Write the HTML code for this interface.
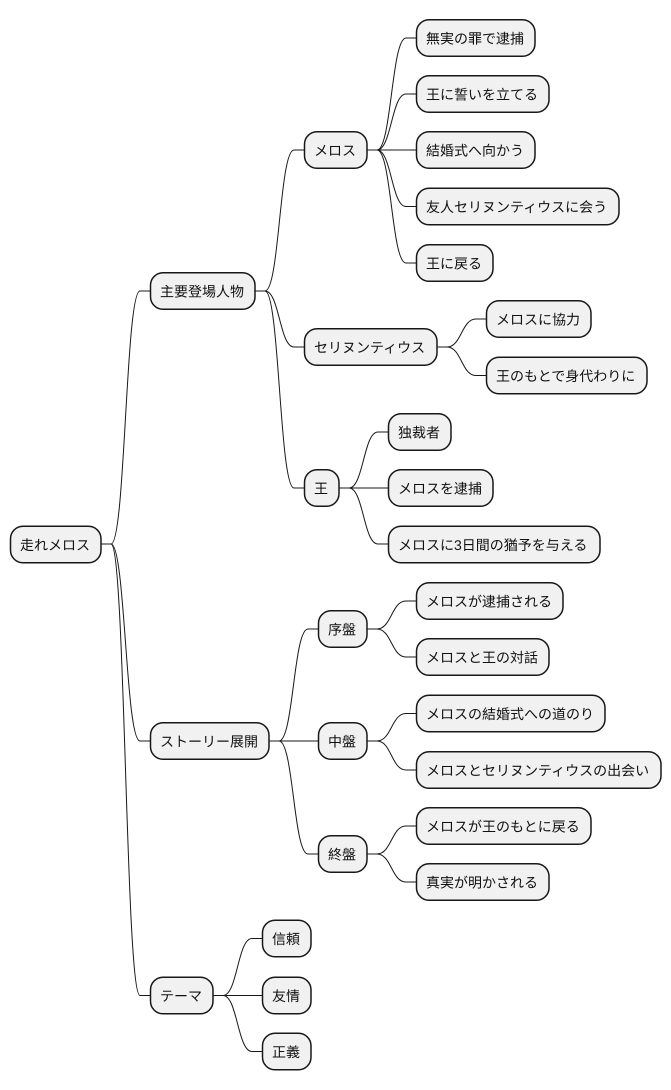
<!DOCTYPE html>
<html><head><meta charset="utf-8"><style>
html,body{margin:0;padding:0;background:#fff}
svg{display:block}
rect{fill:#F1F1F1;stroke:#181818;stroke-width:1.5}
path{fill:none;stroke:#181818;stroke-width:1}
text{font-family:"Liberation Sans","WenQuanYi Zen Hei",sans-serif;font-size:14px;fill:#111;text-rendering:geometricPrecision;transform:translateY(.5px)}
tspan{font-family:"Noto Sans CJK JP",sans-serif}
</style></head><body>
<svg xmlns="http://www.w3.org/2000/svg" width="671" height="1090" viewBox="0 0 671 1090">
<path d="M101,544L111,544C125.5,544 125.5,291 140,291L150,291"/>
<path d="M101,544L111,544C125.5,544 125.5,741 140,741L150,741"/>
<path d="M101,544L111,544C125.5,544 125.5,995.5 140,995.5L150,995.5"/>
<path d="M255,291L265,291C279.5,291 279.5,150 294,150L304,150"/>
<path d="M255,291L265,291C279.5,291 279.5,347 294,347L304,347"/>
<path d="M255,291L265,291C279.5,291 279.5,488 294,488L304,488"/>
<path d="M269,741L279,741C293.5,741 293.5,629 308,629L318,629"/>
<path d="M269,741L318,741"/>
<path d="M269,741L279,741C293.5,741 293.5,854 308,854L318,854"/>
<path d="M213,995.5L223,995.5C237.5,995.5 237.5,938.5 252,938.5L262,938.5"/>
<path d="M213,995.5L262,995.5"/>
<path d="M213,995.5L223,995.5C237.5,995.5 237.5,1051.5 252,1051.5L262,1051.5"/>
<path d="M367,150L377,150C391.5,150 391.5,38 406,38L416,38"/>
<path d="M367,150L377,150C391.5,150 391.5,94 406,94L416,94"/>
<path d="M367,150L416,150"/>
<path d="M367,150L377,150C391.5,150 391.5,206.5 406,206.5L416,206.5"/>
<path d="M367,150L377,150C391.5,150 391.5,263 406,263L416,263"/>
<path d="M437,347L447,347C461.5,347 461.5,319 476,319L486,319"/>
<path d="M437,347L447,347C461.5,347 461.5,375.5 476,375.5L486,375.5"/>
<path d="M339,488L349,488C363.5,488 363.5,432 378,432L388,432"/>
<path d="M339,488L388,488"/>
<path d="M339,488L349,488C363.5,488 363.5,544 378,544L388,544"/>
<path d="M367,629L377,629C391.5,629 391.5,601 406,601L416,601"/>
<path d="M367,629L377,629C391.5,629 391.5,657 406,657L416,657"/>
<path d="M367,741L377,741C391.5,741 391.5,713.5 406,713.5L416,713.5"/>
<path d="M367,741L377,741C391.5,741 391.5,770 406,770L416,770"/>
<path d="M367,854L377,854C391.5,854 391.5,826 406,826L416,826"/>
<path d="M367,854L377,854C391.5,854 391.5,882 406,882L416,882"/>

<rect x="10.5" y="526.3" width="90.5" height="36.5" rx="12.5"/><text x="20" y="549.5">走れメロス</text>
<rect x="150.5" y="272.8" width="104.5" height="36.5" rx="12.5"/><text x="160" y="296">主要登場人物</text>
<rect x="150.5" y="722.8" width="118.5" height="36.5" rx="12.5"/><text x="160" y="746">ストーリー展開</text>
<rect x="150.5" y="977.3" width="62.5" height="36.5" rx="12.5"/><text x="160" y="1000.5">テーマ</text>
<rect x="304.5" y="131.8" width="62.5" height="36.5" rx="12.5"/><text x="314" y="155">メロス</text>
<rect x="304.5" y="328.8" width="132.5" height="36.5" rx="12.5"/><text x="314" y="352">セリヌンティウス</text>
<rect x="304.5" y="469.8" width="34.5" height="36.5" rx="12.5"/><text x="314" y="493">王</text>
<rect x="318.5" y="610.8" width="48.5" height="36.5" rx="12.5"/><text x="328" y="634">序盤</text>
<rect x="318.5" y="722.8" width="48.5" height="36.5" rx="12.5"/><text x="328" y="746">中盤</text>
<rect x="318.5" y="835.8" width="48.5" height="36.5" rx="12.5"/><text x="328" y="859">終盤</text>
<rect x="262.5" y="920.3" width="48.5" height="36.5" rx="12.5"/><text x="272" y="943.5">信頼</text>
<rect x="262.5" y="977.3" width="48.5" height="36.5" rx="12.5"/><text x="272" y="1000.5">友情</text>
<rect x="262.5" y="1033.3" width="48.5" height="36.5" rx="12.5"/><text x="272" y="1056.5">正義</text>
<rect x="416.5" y="19.8" width="118.5" height="36.5" rx="12.5"/><text x="426" y="43">無実の罪で逮捕</text>
<rect x="416.5" y="75.8" width="132.5" height="36.5" rx="12.5"/><text x="426" y="99">王に誓いを立てる</text>
<rect x="416.5" y="131.8" width="118.5" height="36.5" rx="12.5"/><text x="426" y="155">結婚式へ向かう</text>
<rect x="416.5" y="188.3" width="202.5" height="36.5" rx="12.5"/><text x="426" y="211.5">友人セリヌンティウスに会う</text>
<rect x="416.5" y="244.8" width="76.5" height="36.5" rx="12.5"/><text x="426" y="268">王に<tspan>戻</tspan>る</text>
<rect x="486.5" y="300.8" width="104.5" height="36.5" rx="12.5"/><text x="496" y="324">メロスに協力</text>
<rect x="486.5" y="357.3" width="160.5" height="36.5" rx="12.5"/><text x="496" y="380.5">王のもとで身代わりに</text>
<rect x="388.5" y="413.8" width="62.5" height="36.5" rx="12.5"/><text x="398" y="437">独裁者</text>
<rect x="388.5" y="469.8" width="104.5" height="36.5" rx="12.5"/><text x="398" y="493">メロスを逮捕</text>
<rect x="388.5" y="526.3" width="211.5" height="36.5" rx="12.5"/><text x="398" y="549.5">メロスに3日間の猶予を与える</text>
<rect x="416.5" y="582.8" width="146.5" height="36.5" rx="12.5"/><text x="426" y="606">メロスが逮捕される</text>
<rect x="416.5" y="638.8" width="132.5" height="36.5" rx="12.5"/><text x="426" y="662">メロスと王の対話</text>
<rect x="416.5" y="695.3" width="188.5" height="36.5" rx="12.5"/><text x="426" y="718.5">メロスの結婚式への道のり</text>
<rect x="416.5" y="751.8" width="244.5" height="36.5" rx="12.5"/><text x="426" y="775">メロスとセリヌンティウスの出会い</text>
<rect x="416.5" y="807.8" width="174.5" height="36.5" rx="12.5"/><text x="426" y="831">メロスが王のもとに<tspan>戻</tspan>る</text>
<rect x="416.5" y="863.8" width="132.5" height="36.5" rx="12.5"/><text x="426" y="887">真実が明かされる</text>
</svg>
</body></html>
